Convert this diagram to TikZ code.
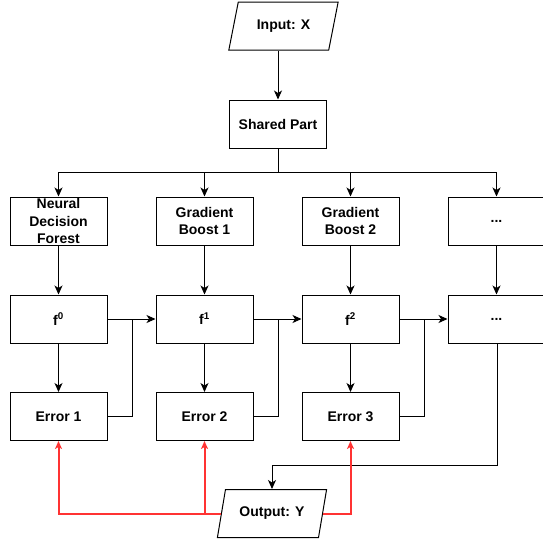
\documentclass[tikz,border=0pt]{standalone}
\usepackage{fontspec}
\setmainfont{Liberation Sans}
\usetikzlibrary{arrows.meta,shapes.geometric}
\definecolor{redline}{RGB}{255,51,51}
\begin{document}
\begin{tikzpicture}[x=1pt,y=-1pt,
  txt/.style={font=\bfseries\fontsize{14}{17.5}\selectfont},
  box/.style={txt, draw, line width=1pt, minimum width=97pt, minimum height=48pt, inner sep=0pt, align=center},
  para/.style={txt, trapezium, trapezium left angle=66, trapezium right angle=114, trapezium stretches, draw, line width=1pt, minimum width=110pt, minimum height=48pt, inner sep=0pt},
  ln/.style={line width=1pt},
  arr/.style={line width=1pt, -{Stealth[length=9pt,width=8pt,inset=2.5pt]}},
  rarr/.style={draw=redline, line width=2pt, -{Stealth[length=8pt,width=7pt,inset=2pt]}}
]
\useasboundingbox (0,0) rectangle (543,544);
% nodes
\node[para] (inp) at (283.5,26) {Input: X};
\node[box] (sp) at (278,124) {Shared Part};
\node[box] (b1) at (58.5,221) {Neural\\Decision\\Forest};
\node[box] (b2) at (204.5,221) {Gradient\\Boost 1};
\node[box] (b3) at (350.5,221) {Gradient\\Boost 2};
\node[box] (b4) at (496.5,221) {...};
\node[box] (f0) at (58.5,319) {f\textsuperscript{0}};
\node[box] (f1) at (204.5,319) {f\textsuperscript{1}};
\node[box] (f2) at (350.5,319) {f\textsuperscript{2}};
\node[box] (f3) at (496.5,319) {...};
\node[box] (e1) at (58.5,416.5) {Error 1};
\node[box] (e2) at (204.5,416.5) {Error 2};
\node[box] (e3) at (350.5,416.5) {Error 3};
\node[para] (out) at (272,513.5) {Output: Y};
% coordinates
\coordinate (br) at (278,172);
\coordinate (j1) at (132,319);
\coordinate (j2) at (278,319);
\coordinate (j3) at (424,319);
\coordinate (k) at (497,465);
% connectors
\draw[arr] (inp.south -| sp.north) -- (sp.north);
\draw[arr] (sp.south) -- (br) -| (b1.north);
\draw[arr] (sp.south) -- (br) -| (b2.north);
\draw[arr] (sp.south) -- (br) -| (b3.north);
\draw[arr] (sp.south) -- (br) -| (b4.north);
\draw[arr] (b1.south) -- (f0.north);
\draw[arr] (b2.south) -- (f1.north);
\draw[arr] (b3.south) -- (f2.north);
\draw[arr] (b4.south) -- (f3.north);
\draw[arr] (f0.south) -- (e1.north);
\draw[arr] (f1.south) -- (e2.north);
\draw[arr] (f2.south) -- (e3.north);
\draw[arr] (f0.east) -- (f1.west);
\draw[arr] (f1.east) -- (f2.west);
\draw[arr] (f2.east) -- (f3.west);
\draw[ln] (e1.east) -| (j1);
\draw[ln] (e2.east) -| (j2);
\draw[ln] (e3.east) -| (j3);
\draw[arr] (f3.south -| k) -- (k) -| (out.north);
\draw[rarr] (out.left side) -| (e1.south);
\draw[rarr] (out.left side) -| (e2.south);
\draw[rarr] (out.right side) -| (e3.south);
\end{tikzpicture}
\end{document}
